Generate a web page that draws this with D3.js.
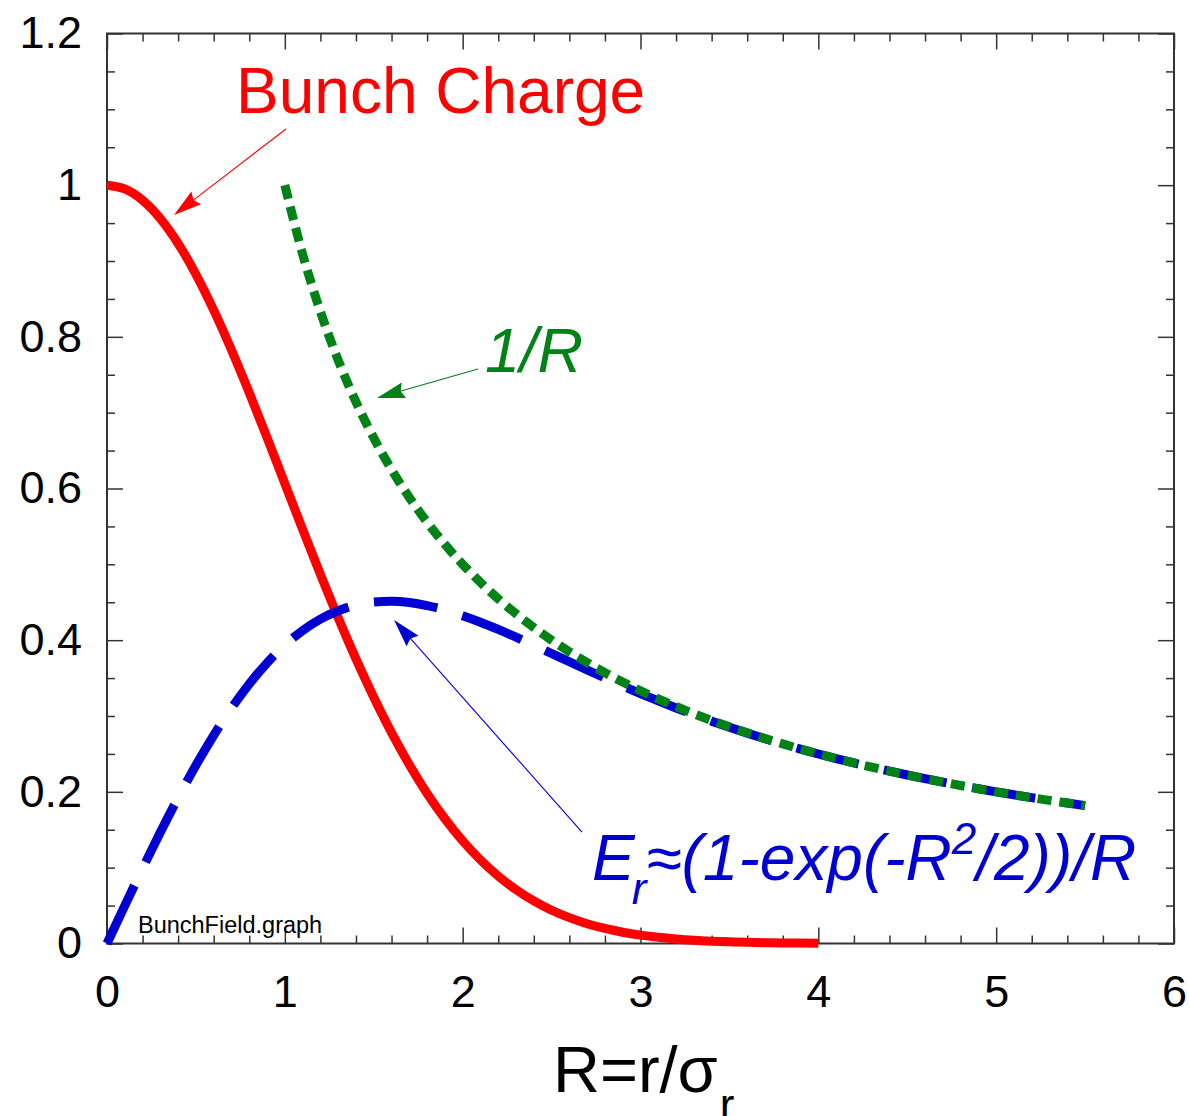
<!DOCTYPE html>
<html><head><meta charset="utf-8">
<script src="https://cdn.jsdelivr.net/npm/d3@7"></script>
<style>
body{margin:0;background:#fff}
svg{display:block}
text{font-family:"Liberation Sans", Arial, Helvetica, sans-serif}
</style>
</head><body>
<svg id="chart" width="1190" height="1116"></svg>
<script>
// ---- data ----
const rBunch = [0,0.1,0.2,0.3,0.4,0.5,0.6,0.7,0.8,0.9,1.0,1.1,1.2,1.3,1.4,1.5,1.6,1.7,1.8,1.9,2.0,2.1,2.2,2.3,2.4,2.5,2.6,2.7,2.8,2.9,3.0,3.1,3.2,3.3,3.4,3.5,3.6,3.7,3.8,3.9,4.0];
const bunchCharge = [1,0.9950,0.9802,0.9560,0.9231,0.8825,0.8353,0.7827,0.7262,0.6670,0.6065,0.5461,0.4868,0.4296,0.3753,0.3247,0.2780,0.2358,0.1979,0.1645,0.1353,0.1103,0.0889,0.0710,0.0561,0.0439,0.0341,0.0261,0.0198,0.0149,0.0111,0.0082,0.0060,0.0043,0.0031,0.0022,0.0015,0.0011,0.0007,0.0005,0.0003];

const rField = [0,0.1,0.2,0.3,0.4,0.5,0.6,0.7,0.8,0.9,1.0,1.1,1.2,1.3,1.4,1.5,1.6,1.7,1.8,1.9,2.0,2.1,2.2,2.3,2.4,2.5,2.6,2.7,2.8,2.9,3.0,3.1,3.2,3.3,3.4,3.5,3.6,3.7,3.8,3.9,4.0,4.1,4.2,4.3,4.4,4.5,4.6,4.7,4.8,4.9,5.0,5.1,5.2,5.3,5.4,5.5];
const fieldEr = [0,0.0499,0.0990,0.1467,0.1922,0.2350,0.2746,0.3104,0.3423,0.3700,0.3935,0.4127,0.4277,0.4388,0.4462,0.4502,0.4512,0.4496,0.4456,0.4398,0.4323,0.4237,0.4141,0.4039,0.3933,0.3824,0.3715,0.3607,0.3501,0.3397,0.3296,0.3199,0.3106,0.3017,0.2932,0.2851,0.2774,0.2700,0.2630,0.2563,0.2499,0.2438,0.2381,0.2325,0.2273,0.2222,0.2174,0.2128,0.2083,0.2041,0.2000,0.1961,0.1923,0.1887,0.1852,0.1818];

const rInv = [1.0,1.1,1.2,1.3,1.4,1.5,1.6,1.7,1.8,1.9,2.0,2.1,2.2,2.3,2.4,2.5,2.6,2.7,2.8,2.9,3.0,3.1,3.2,3.3,3.4,3.5,3.6,3.7,3.8,3.9,4.0,4.1,4.2,4.3,4.4,4.5,4.6,4.7,4.8,4.9,5.0,5.1,5.2,5.3,5.4,5.5];
const invR = [1,0.9091,0.8333,0.7692,0.7143,0.6667,0.6250,0.5882,0.5556,0.5263,0.5000,0.4762,0.4545,0.4348,0.4167,0.4000,0.3846,0.3704,0.3571,0.3448,0.3333,0.3226,0.3125,0.3030,0.2941,0.2857,0.2778,0.2703,0.2632,0.2564,0.2500,0.2439,0.2381,0.2326,0.2273,0.2222,0.2174,0.2128,0.2083,0.2041,0.2000,0.1961,0.1923,0.1887,0.1852,0.1818];

const xTickValues = [0,1,2,3,4,5,6];
const xTickLabels = ["0","1","2","3","4","5","6"];
const yTickValues = [0,0.2,0.4,0.6,0.8,1,1.2];
const yTickLabels = ["0","0.2","0.4","0.6","0.8","1","1.2"];
const xMinorTicks = [0.2,0.4,0.6,0.8,1.2,1.4,1.6,1.8,2.2,2.4,2.6,2.8,3.2,3.4,3.6,3.8,4.2,4.4,4.6,4.8,5.2,5.4,5.6,5.8];
const yMinorTicks = [0.05,0.1,0.15,0.25,0.3,0.35,0.45,0.5,0.55,0.65,0.7,0.75,0.85,0.9,0.95,1.05,1.1,1.15];

// ---- layout ----
const L = 107, R = 1174, T = 33.5, B = 943.5;
const svg = d3.select("#chart");
const x = d3.scaleLinear().domain([0,6]).range([L,R]);
const y = d3.scaleLinear().domain([0,1.2]).range([B,T]);

const axisColor = "#333";
function styleAxis(g){
  g.select(".domain").remove();
  g.selectAll(".tick line").attr("stroke", axisColor).attr("stroke-width", 1.5);
}
const fmtX = (d) => xTickLabels[xTickValues.indexOf(d)];
const fmtY = (d) => yTickLabels[yTickValues.indexOf(d)];

// major ticks
svg.append("g").attr("transform",`translate(0,${B})`)
  .call(d3.axisBottom(x).tickValues(xTickValues).tickFormat(fmtX).tickSize(-16).tickPadding(31.5))
  .call(styleAxis)
  .call(g=>g.selectAll("text").attr("font-size",45).attr("fill","#000").attr("font-family","'Liberation Sans', Arial, sans-serif"));
svg.append("g").attr("transform",`translate(0,${T})`)
  .call(d3.axisTop(x).tickValues(xTickValues).tickFormat("").tickSize(-16)).call(styleAxis);
svg.append("g").attr("transform",`translate(${L},0)`)
  .call(d3.axisLeft(y).tickValues(yTickValues).tickFormat(fmtY).tickSize(-16).tickPadding(25))
  .call(styleAxis)
  .call(g=>g.selectAll("text").attr("font-size",45).attr("fill","#000").attr("font-family","'Liberation Sans', Arial, sans-serif"));
svg.append("g").attr("transform",`translate(${R},0)`)
  .call(d3.axisRight(y).tickValues(yTickValues).tickFormat("").tickSize(-16)).call(styleAxis);

// minor ticks
svg.append("g").attr("transform",`translate(0,${B})`)
  .call(d3.axisBottom(x).tickValues(xMinorTicks).tickFormat("").tickSize(-8)).call(styleAxis);
svg.append("g").attr("transform",`translate(0,${T})`)
  .call(d3.axisTop(x).tickValues(xMinorTicks).tickFormat("").tickSize(-8)).call(styleAxis);
svg.append("g").attr("transform",`translate(${L},0)`)
  .call(d3.axisLeft(y).tickValues(yMinorTicks).tickFormat("").tickSize(-8)).call(styleAxis);
svg.append("g").attr("transform",`translate(${R},0)`)
  .call(d3.axisRight(y).tickValues(yMinorTicks).tickFormat("").tickSize(-8)).call(styleAxis);

// frame
svg.append("rect").attr("x",L).attr("y",T).attr("width",R-L).attr("height",B-T)
  .attr("fill","none").attr("stroke",axisColor).attr("stroke-width",2);

// ---- curves ----
const line = d3.line().x(d=>x(d[0])).y(d=>y(d[1])).curve(d3.curveMonotoneX);
const RED = "#ff0000", BLUE = "#0000d2", GREEN = "#008216";

svg.append("path").datum(rBunch.map((r,i)=>[r,bunchCharge[i]]))
  .attr("d",line).attr("fill","none").attr("stroke",RED).attr("stroke-width",9);

svg.append("path").datum(rField.map((r,i)=>[r,fieldEr[i]]))
  .attr("d",line).attr("fill","none").attr("stroke",BLUE).attr("stroke-width",9)
  .attr("stroke-dasharray","64,26");

svg.append("path").datum(rInv.map((r,i)=>[r,invR[i]]))
  .attr("d",line).attr("fill","none").attr("stroke",GREEN).attr("stroke-width",9)
  .attr("stroke-dasharray","14,8");

// ---- annotations ----
function arrow(from, to, color){
  const x0=x(from[0]), y0=y(from[1]), x1=x(to[0]), y1=y(to[1]);
  const dx=x1-x0, dy=y1-y0, len=Math.hypot(dx,dy), ux=dx/len, uy=dy/len;
  const Lh=28, W=8, nx=-uy, ny=ux;
  const bx=x1-ux*Lh, by=y1-uy*Lh;
  svg.append("line").attr("x1",x0).attr("y1",y0).attr("x2",bx+ux*4).attr("y2",by+uy*4)
    .attr("stroke",color).attr("stroke-width",1.1);
  svg.append("path").attr("d",`M${x1},${y1}L${bx+nx*W},${by+ny*W}L${x1-ux*Lh*0.88},${y1-uy*Lh*0.88}L${bx-nx*W},${by-ny*W}Z`)
    .attr("fill",color);
}
arrow([1.0066,1.0741],[0.3768,0.9607],RED);
arrow([2.0863,0.7576],[1.5183,0.7194],GREEN);
arrow([2.6711,0.1470],[1.6139,0.4266],BLUE);

svg.append("text").attr("x",x(0.7254)).attr("y",y(1.0948)).attr("font-size",64).attr("fill",RED)
  .text("Bunch Charge");
svg.append("text").attr("x",x(2.1256)).attr("y",y(0.7540)).attr("font-size",63).attr("font-style","italic").attr("fill",GREEN)
  .text("1/R");

const er = svg.append("text").attr("x",x(2.7273)).attr("y",y(0.0837)).attr("font-size",64).attr("font-style","italic").attr("fill",BLUE);
er.append("tspan").text("E");
er.append("tspan").attr("font-size",44).attr("dy",24).attr("dx",-3).text("r");
er.append("tspan").attr("dy",-24).attr("dx",0).text("\u2248(1-exp(-R");
er.append("tspan").attr("font-size",44).attr("dy",-26).attr("dx",0).text("2");
er.append("tspan").attr("dy",26).attr("dx",0).text("/2))/R");

svg.append("text").attr("x",x(0.1743)).attr("y",y(0.0138)).attr("font-size",23.5).attr("fill","#000")
  .text("BunchField.graph");

const xt = svg.append("text").attr("x",553).attr("y",1091.5).attr("font-size",65).attr("fill","#000");
xt.append("tspan").text("R=r/\u03c3");
xt.append("tspan").attr("font-size",44).attr("dy",28).attr("dx",2).text("r");
</script>
</body></html>
